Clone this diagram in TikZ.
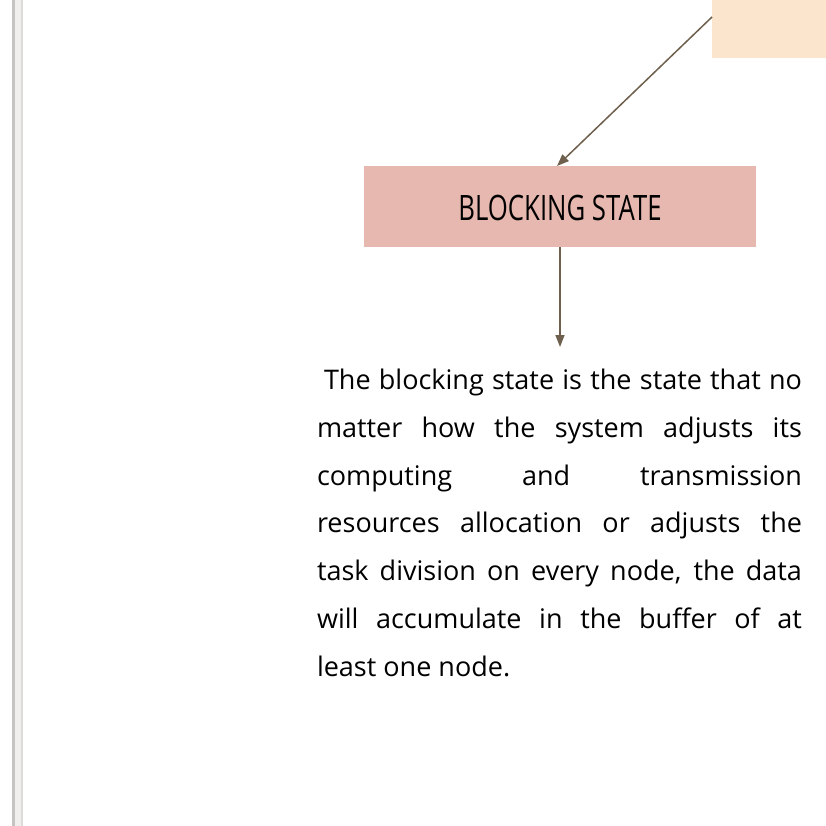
\documentclass[tikz,border=0pt]{standalone}
\usepackage{fontspec}
\setmainfont{Open Sans}
\newfontfamily\titlefont[FakeStretch=0.735]{Open Sans}
\usetikzlibrary{arrows.meta}
\definecolor{peach}{HTML}{FCE5CD}
\definecolor{rose}{HTML}{E6B8AF}
\definecolor{arrowc}{HTML}{6E604C}
\definecolor{bardark}{HTML}{C6C4C2}
\definecolor{barfill}{HTML}{F0EFED}
\definecolor{baredge}{HTML}{DDDBD9}
\tikzset{
  boxstyle/.style={draw=none, inner sep=0pt, outer sep=0pt},
  conn/.style={draw=arrowc, line width=1.5pt, -{Triangle[length=12pt,width=9pt]}},
}
\begin{document}
\begin{tikzpicture}[x=1pt,y=-1pt]
\path[use as bounding box, fill=white] (0,0) rectangle (826,826);
% left bar
\fill[bardark] (12,0) rectangle (14.5,826);
\fill[barfill] (14.5,0) rectangle (21,826);
\fill[baredge] (21,0) rectangle (23,826);
% peach box (partly off the page)
\node[boxstyle, fill=peach, anchor=north west, minimum width=130pt, minimum height=68pt] (src) at (712,-10) {};
\coordinate (srcout) at (712,17);
% blocking state box
\node[boxstyle, fill=rose, minimum width=392pt, minimum height=81pt] (blk) at (560,206.5) {};
\node[boxstyle, anchor=base] (blktxt) at (560,220.7) {\titlefont\fontsize{35}{40}\selectfont BLOCKING STATE};
% arrows
\draw[conn] (srcout) -- ([xshift=-3pt]blk.north);
\coordinate (txttop) at (560,347);
\draw[conn] (blk.south) -- (txttop);
% paragraph
\node[boxstyle, anchor=north west, text width=485pt, align=justify, font=\fontsize{27}{47.7}\selectfont] (desc) at (317,369.3)
{\hspace*{7pt}The blocking state is the state that no\linebreak
matter how the system adjusts its\linebreak
computing and transmission\linebreak
resources allocation or adjusts the\linebreak
task division on every node, the data\linebreak
will accumulate in the buffer of at\linebreak
least one node.};
\end{tikzpicture}
\end{document}
